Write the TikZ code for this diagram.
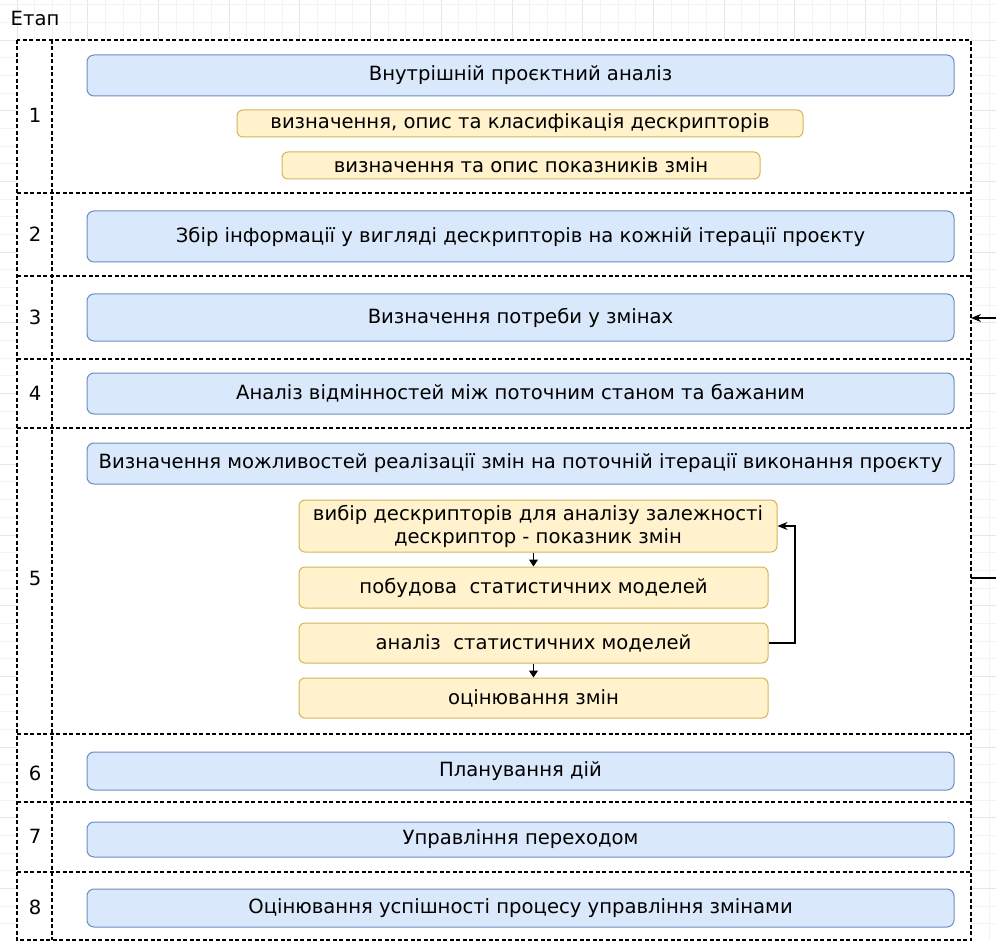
\documentclass[tikz,border=0pt]{standalone}
\usepackage{fontspec}
\setmainfont{DejaVu Sans}
\usetikzlibrary{arrows.meta}
\definecolor{blueF}{HTML}{DAE8FC}
\definecolor{blueS}{HTML}{6C8EBF}
\definecolor{yelF}{HTML}{FFF2CC}
\definecolor{yelS}{HTML}{D6B656}
\definecolor{gridmin}{HTML}{F3F3F3}
\definecolor{gridmaj}{HTML}{E6E6E6}
\tikzset{
  txt/.style={font=\fontsize{19.6}{23}\selectfont},
  bluebox/.style={txt, draw=blueS, fill=blueF, rounded corners=7pt, line width=1pt, inner sep=0pt, align=center},
  yelbox/.style={txt, draw=yelS, fill=yelF, rounded corners=6pt, line width=1pt, inner sep=0pt, align=center},
  lane/.style={dash pattern=on 4pt off 2.5pt, line width=1.1pt, black},
  stagelbl/.style={txt, inner sep=0pt},
  conn/.style={line width=1.1pt, -{Triangle[length=7pt,width=9pt]}},
  conn2/.style={line width=1.1pt, -{Stealth[length=10pt,width=8pt]}},
  plain/.style={line width=1.1pt}
}
\begin{document}
\begin{tikzpicture}[x=1pt,y=-1pt]
\useasboundingbox (0,0) rectangle (996,941);
\fill[white] (0,0) rectangle (996,941);
% grid
\foreach \k in {-1,...,55} {
  \pgfmathsetmacro{\xx}{17+17.675*\k}
  \pgfmathtruncatemacro{\m}{mod(\k+40,4)}
  \ifnum\m=0 \draw[gridmaj,line width=0.8pt] (\xx,0) -- (\xx,941);
  \else \draw[gridmin,line width=0.8pt] (\xx,0) -- (\xx,941); \fi
}
\foreach \k in {-3,...,51} {
  \pgfmathsetmacro{\yy}{40+17.675*\k}
  \pgfmathtruncatemacro{\m}{mod(\k+40,4)}
  \ifnum\m=0 \draw[gridmaj,line width=0.8pt] (0,\yy) -- (996,\yy);
  \else \draw[gridmin,line width=0.8pt] (0,\yy) -- (996,\yy); \fi
}
% frame
\fill[white] (17,40) rectangle (971,940);
\draw[lane] (17,40) rectangle (971,940);
\draw[lane] (52,40) -- (52,940);
\foreach \yy in {193,276,359,428,734,802,872} \draw[lane] (17,\yy) -- (971,\yy);

\node[stagelbl] (etap) at (35,18) {Етап};
\node[stagelbl] (s1) at (35,115) {1};
\node[stagelbl] (s2) at (35,234) {2};
\node[stagelbl] (s3) at (35,317) {3};
\node[stagelbl] (s4) at (35,393) {4};
\node[stagelbl] (s5) at (35,578) {5};
\node[stagelbl] (s6) at (35,773) {6};
\node[stagelbl] (s7) at (35,836) {7};
\node[stagelbl] (s8) at (35,907) {8};

\node[bluebox, minimum width=867pt, minimum height=41pt] (b1) at (520.5,75.5) {Внутрішній проєктний аналіз};
\node[yelbox, minimum width=566pt, minimum height=27pt] (y1) at (520,123.5) {визначення, опис та класифікація дескрипторів};
\node[yelbox, minimum width=478pt, minimum height=27pt] (y2) at (521,165.5) {визначення та опис показників змін};
\node[bluebox, minimum width=867pt, minimum height=51pt] (b2) at (520.5,236.5) {Збір інформації у вигляді дескрипторів на кожній ітерації проєкту};
\node[bluebox, minimum width=867pt, minimum height=47pt] (b3) at (520.5,317.5) {Визначення потреби у змінах};
\node[bluebox, minimum width=867pt, minimum height=41pt] (b4) at (520.5,393.5) {Аналіз відмінностей між поточним станом та бажаним};
\node[bluebox, minimum width=867pt, minimum height=41pt] (b5) at (520.5,463.5) {Визначення можливостей реалізації змін на поточній ітерації виконання проєкту};
\node[yelbox, minimum width=478pt, minimum height=52pt] (ya) at (538,526) {вибір дескрипторів для аналізу залежності\\дескриптор - показник змін};
\node[yelbox, minimum width=469pt, minimum height=41pt] (yb) at (533.5,587.5) {побудова\ \ статистичних моделей};
\node[yelbox, minimum width=469pt, minimum height=40pt] (yc) at (533.5,643) {аналіз\ \ статистичних моделей};
\node[yelbox, minimum width=469pt, minimum height=40pt] (yd) at (533.5,698) {оцінювання змін};
\node[bluebox, minimum width=867pt, minimum height=38pt] (b6) at (520.5,771) {Планування дій};
\node[bluebox, minimum width=867pt, minimum height=35pt] (b7) at (520.5,839.5) {Управління переходом};
\node[bluebox, minimum width=867pt, minimum height=38pt] (b8) at (520.5,908) {Оцінювання успішності процесу управління змінами};

% connectors
\draw[conn] (yb.north |- ya.south) -- (yb.north);
\draw[conn] (yc.south) -- (yd.north);
\draw[conn2] (yc.east) -- (795,643) |- (ya.east);

\coordinate (in3) at (996,318);
\coordinate (f3) at (971,318);
\coordinate (f5) at (971,578);
\coordinate (out5) at (996,578);
\draw[conn2] (in3) -- (f3);
\draw[plain] (f5) -- (out5);
\end{tikzpicture}
\end{document}
